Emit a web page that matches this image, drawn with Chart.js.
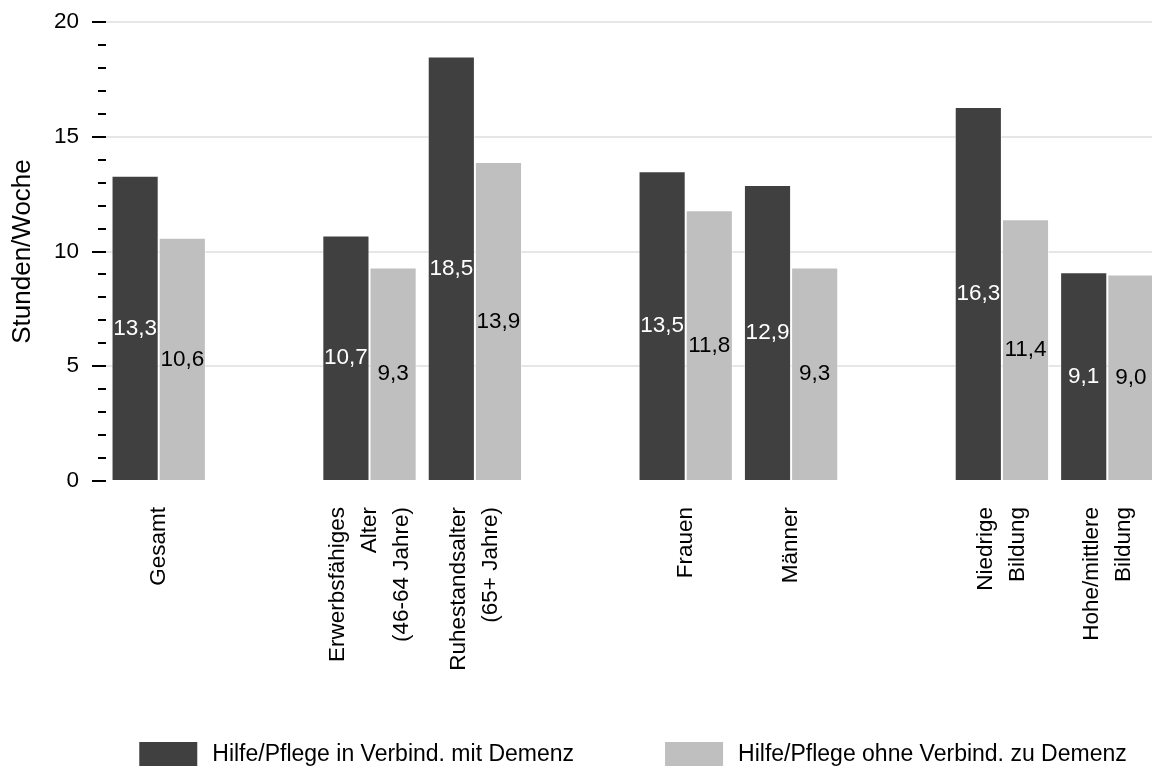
<!DOCTYPE html>
<html lang="de">
<head>
<meta charset="utf-8">
<title>Stunden/Woche</title>
<script src="https://cdn.jsdelivr.net/npm/chart.js@4.4.1/dist/chart.umd.min.js"></script>
<style>
    html, body { margin: 0; padding: 0; background: #fff; overflow: hidden; }
    #wrap { width: 1160px; height: 768px; }
</style>
</head>
<body>
<div id="wrap"><canvas id="chart-stunden" width="1160" height="768"></canvas></div>
<script>
var FONT = '"Liberation Sans", Arial, Helvetica, sans-serif';

// empty strings are the gaps between the groups
var categories = [
    'Gesamt',
    '',
    ['Erwerbsfähiges', 'Alter', '(46-64 Jahre)'],
    ['Ruhestandsalter', '(65+ Jahre)'],
    '',
    'Frauen',
    'Männer',
    '',
    ['Niedrige', 'Bildung'],
    ['Hohe/mittlere', 'Bildung']
];
var seriesNames = ['Hilfe/Pflege in Verbind. mit Demenz', 'Hilfe/Pflege ohne Verbind. zu Demenz'];
var mitDemenz = [13.3, null, 10.7, 18.5, null, 13.5, 12.9, null, 16.3, 9.1];
var ohneDemenz = [10.6, null, 9.3, 13.9, null, 11.8, 9.3, null, 11.4, 9.0];
var yTicks = [0, 5, 10, 15, 20];

function fmt(v) {
    return v.toFixed(1).replace('.', ',');
}

// value labels in the middle of every bar
var barLabels = {
    id: 'barLabels',
    afterDatasetsDraw: function (chart) {
        var ctx = chart.ctx;
        var y = chart.scales.y;
        ctx.save();
        ctx.font = '22.5px ' + FONT;
        ctx.textAlign = 'center';
        ctx.textBaseline = 'middle';
        chart.data.datasets.forEach(function (ds, d) {
            var meta = chart.getDatasetMeta(d);
            ctx.fillStyle = d === 0 ? '#ffffff' : '#000000';
            meta.data.forEach(function (bar, i) {
                var v = ds.data[i];
                if (v === null) return;
                ctx.fillText(fmt(v), bar.x, y.getPixelForValue(v / 2));
            });
        });
        ctx.restore();
    }
};

// rotated, centred multi-line category labels
var xLabels = {
    id: 'xLabels',
    afterDraw: function (chart) {
        var ctx = chart.ctx;
        var x = chart.scales.x;
        var top = chart.chartArea.bottom + 26;
        var lineH = 32;
        ctx.save();
        ctx.font = '22.5px ' + FONT;
        ctx.fillStyle = '#000';
        ctx.textAlign = 'right';
        ctx.textBaseline = 'middle';
        categories.forEach(function (lab, i) {
            var lines = Array.isArray(lab) ? lab : [lab];
            var px = x.getPixelForValue(i);
            lines.forEach(function (line, j) {
                if (!line) return;
                var off = (j - (lines.length - 1) / 2) * lineH;
                ctx.save();
                ctx.translate(px + off, top);
                ctx.rotate(-Math.PI / 2);
                ctx.fillText(line, 0, 0);
                ctx.restore();
            });
        });
        ctx.restore();
    }
};

var legendBoxes = {
    id: 'legendBoxes',
    afterDraw: function (chart) {
        var ctx = chart.ctx;
        var area = chart.chartArea;
        var boxW = 58, boxH = 24, gap = 15, itemGap = 91;
        ctx.save();
        ctx.font = '23px ' + FONT;
        var items = chart.data.datasets.map(function (ds) {
            return {ds: ds, w: boxW + gap + ctx.measureText(ds.label).width};
        });
        var total = itemGap * (items.length - 1);
        items.forEach(function (it) { total += it.w; });
        var left = (area.left + area.right - total) / 2;
        var top = chart.height - 26;
        ctx.textBaseline = 'middle';
        items.forEach(function (it) {
            ctx.fillStyle = it.ds.backgroundColor;
            ctx.fillRect(left, top, boxW, boxH);
            ctx.fillStyle = '#000';
            ctx.fillText(it.ds.label, left + boxW + gap, top + boxH / 2 + 0.5);
            left += it.w + itemGap;
        });
        ctx.restore();
    }
};

var chart = new Chart(document.getElementById('chart-stunden'), {
    type: 'bar',
    data: {
        labels: categories,
        datasets: [{
            label: seriesNames[0],
            data: mitDemenz,
            backgroundColor: '#404040',
            borderColor: 'rgba(255,255,255,0.6)',
            borderWidth: 1
        }, {
            label: seriesNames[1],
            data: ohneDemenz,
            backgroundColor: '#bfbfbf',
            borderColor: 'rgba(255,255,255,0.6)',
            borderWidth: 1
        }]
    },
    options: {
        responsive: false,
        animation: false,
        categoryPercentage: 0.895,
        barPercentage: 1.0,
        layout: {padding: {top: 22, left: 0, right: 0, bottom: 0}},
        plugins: {
            legend: {display: false},
            tooltip: {enabled: false}
        },
        scales: {
            x: {
                type: 'category',
                offset: true,
                grid: {display: false},
                border: {display: false},
                ticks: {display: false},
                afterFit: function (scale) { scale.height = 287; }
            },
            y: {
                min: 0,
                max: 20,
                border: {display: false},
                grid: {
                    color: function (c) {
                        var v = c.tick.value;
                        return (v % 5 === 0 && v !== 0) ? '#e6e6e6' : 'rgba(0,0,0,0)';
                    },
                    lineWidth: 2,
                    tickLength: 14,
                    tickWidth: 2,
                    tickColor: '#000',
                    // minor ticks: only the inner 8px of the tick is drawn
                    tickBorderDash: function (c) {
                        return c.tick.value % 5 === 0 ? [] : [0, 6, 8, 100];
                    }
                },
                ticks: {
                    stepSize: 1,
                    autoSkip: false,
                    maxTicksLimit: 25,
                    padding: 13,
                    color: '#000',
                    font: {family: FONT, size: 22.5},
                    callback: function (v) { return yTicks.indexOf(v) >= 0 ? String(v) : ''; }
                },
                title: {
                    display: true,
                    text: 'Stunden/Woche',
                    color: '#000',
                    font: {family: FONT, size: 26},
                    padding: {top: 7, bottom: 0}
                },
                afterFit: function (scale) {
                    scale.width = 106;
                    // the top padding comes from layout.padding, not from the tick labels
                    scale.paddingTop = 0;
                    scale.paddingBottom = 0;
                }
            }
        }
    },
    plugins: [barLabels, xLabels, legendBoxes]
});
</script>
</body>
</html>
